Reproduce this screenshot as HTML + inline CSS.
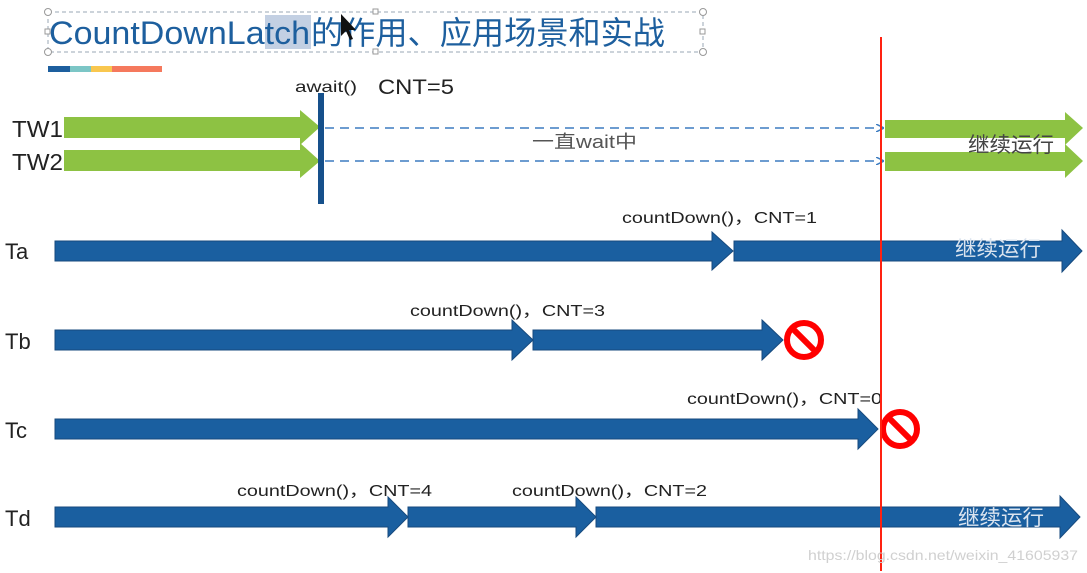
<!DOCTYPE html>
<html><head><meta charset="utf-8"><style>
html,body{margin:0;padding:0;background:#fff;}
svg{display:block;}
text{font-family:"Liberation Sans","Noto Sans CJK SC",sans-serif;}
</style></head><body>
<svg width="1087" height="573" viewBox="0 0 1087 573" xmlns="http://www.w3.org/2000/svg">
<defs>
<marker id="ah" markerWidth="8" markerHeight="8" refX="7" refY="4" orient="auto" markerUnits="userSpaceOnUse"><path d="M0,0 L8,4 L0,8" fill="none" stroke="#3d7cc0" stroke-width="1.5"/></marker>
</defs>
<rect x="48" y="12" width="655" height="40" fill="none" stroke="#9aa7b5" stroke-dasharray="4,3" stroke-width="1"/>
<circle cx="48" cy="12" r="3.5" fill="#fff" stroke="#999"/><circle cx="703" cy="12" r="3.5" fill="#fff" stroke="#999"/>
<circle cx="48" cy="52" r="3.5" fill="#fff" stroke="#999"/><circle cx="703" cy="52" r="3.5" fill="#fff" stroke="#999"/>
<rect x="373" y="9" width="5" height="5" fill="#fff" stroke="#999"/><rect x="373" y="49" width="5" height="5" fill="#fff" stroke="#999"/>
<rect x="45" y="29" width="5" height="5" fill="#fff" stroke="#999"/><rect x="700" y="29" width="5" height="5" fill="#fff" stroke="#999"/>
<rect x="265" y="15" width="46" height="34" fill="#c3d0e3"/>
<text x="49" y="44" font-size="32" fill="#1d5f9e" textLength="261" lengthAdjust="spacingAndGlyphs">CountDownLatch</text>
<text x="311" y="44" font-size="32" fill="#1d5f9e" textLength="354" lengthAdjust="spacingAndGlyphs">的作用、应用场景和实战</text>
<path d="M341,14 L341,36 L346,31 L350,40 L353,39 L349,30 L356,30 Z" fill="#111"/>
<rect x="48" y="66" width="22" height="6" fill="#1d5f9e"/><rect x="70" y="66" width="21" height="6" fill="#7cc6c6"/>
<rect x="91" y="66" width="21" height="6" fill="#f9c74f"/><rect x="112" y="66" width="50" height="6" fill="#f5795d"/>
<text x="295" y="92" font-size="16" fill="#222" textLength="62" lengthAdjust="spacingAndGlyphs">await()</text>
<text x="378" y="94" font-size="21" fill="#222" textLength="76" lengthAdjust="spacingAndGlyphs">CNT=5</text>
<text x="12" y="137" font-size="23" fill="#222" textLength="51" lengthAdjust="spacingAndGlyphs">TW1</text>
<text x="12" y="170" font-size="23" fill="#222" textLength="51" lengthAdjust="spacingAndGlyphs">TW2</text>
<polygon points="64,117 300,117 300,110 320,127 300,145 300,138 64,138" fill="#8dc243"/>
<polygon points="64,150 300,150 300,143 320,161 300,178 300,171 64,171" fill="#8dc243"/>
<rect x="318" y="93" width="6" height="111" fill="#16508b"/>
<line x1="325" y1="128" x2="883" y2="128" stroke="#3d7cc0" stroke-width="1.5" stroke-dasharray="9,6" marker-end="url(#ah)"/>
<line x1="325" y1="161" x2="883" y2="161" stroke="#3d7cc0" stroke-width="1.5" stroke-dasharray="9,6" marker-end="url(#ah)"/>
<text x="532" y="148" font-size="18" fill="#555" textLength="105" lengthAdjust="spacingAndGlyphs">一直wait中</text>
<polygon points="885,120 1065,120 1065,112 1083,128 1065,145 1065,138 885,138" fill="#8dc243"/>
<polygon points="885,152 1065,152 1065,144 1083,161 1065,178 1065,171 885,171" fill="#8dc243"/>
<text x="968" y="152" font-size="21" fill="#444" textLength="86" lengthAdjust="spacingAndGlyphs">继续运行</text>
<text x="5" y="259" font-size="22" fill="#222">Ta</text>
<text x="622" y="223" font-size="16" fill="#222" textLength="195" lengthAdjust="spacingAndGlyphs">countDown()，CNT=1</text>
<polygon points="55,241 712,241 712,232 733,251 712,270 712,261 55,261" fill="#1a5fa0" stroke="#174a7e"/>
<polygon points="734,241 1062,241 1062,230 1082,251 1062,272 1062,261 734,261" fill="#1a5fa0" stroke="#174a7e"/>
<text x="955" y="256" font-size="21" fill="#dbe4ef" textLength="86" lengthAdjust="spacingAndGlyphs">继续运行</text>
<text x="5" y="349" font-size="22" fill="#222">Tb</text>
<text x="410" y="316" font-size="16" fill="#222" textLength="195" lengthAdjust="spacingAndGlyphs">countDown()，CNT=3</text>
<polygon points="55,330 512,330 512,320 533,340 512,360 512,350 55,350" fill="#1a5fa0" stroke="#174a7e"/>
<polygon points="533,330 762,330 762,320 783,340 762,360 762,350 533,350" fill="#1a5fa0" stroke="#174a7e"/>
<g transform="translate(804,340)"><circle r="17" fill="none" stroke="#f00" stroke-width="6"/><line x1="-11" y1="-11" x2="11" y2="11" stroke="#f00" stroke-width="6"/></g>
<text x="5" y="438" font-size="22" fill="#222">Tc</text>
<text x="687" y="404" font-size="16" fill="#222" textLength="195" lengthAdjust="spacingAndGlyphs">countDown()，CNT=0</text>
<polygon points="55,419 858,419 858,409 878,429 858,449 858,439 55,439" fill="#1a5fa0" stroke="#174a7e"/>
<g transform="translate(900,429)"><circle r="17" fill="none" stroke="#f00" stroke-width="6"/><line x1="-11" y1="-11" x2="11" y2="11" stroke="#f00" stroke-width="6"/></g>
<text x="5" y="526" font-size="22" fill="#222">Td</text>
<text x="237" y="496" font-size="16" fill="#222" textLength="195" lengthAdjust="spacingAndGlyphs">countDown()，CNT=4</text>
<text x="512" y="496" font-size="16" fill="#222" textLength="195" lengthAdjust="spacingAndGlyphs">countDown()，CNT=2</text>
<polygon points="55,507 388,507 388,497 408,517 388,537 388,527 55,527" fill="#1a5fa0" stroke="#174a7e"/>
<polygon points="408,507 576,507 576,497 596,517 576,537 576,527 408,527" fill="#1a5fa0" stroke="#174a7e"/>
<polygon points="596,507 1060,507 1060,496 1080,517 1060,538 1060,527 596,527" fill="#1a5fa0" stroke="#174a7e"/>
<text x="958" y="525" font-size="21" fill="#dbe4ef" textLength="86" lengthAdjust="spacingAndGlyphs">继续运行</text>
<line x1="881" y1="37" x2="881" y2="571" stroke="#f21" stroke-width="2"/>
<text x="808" y="560" font-size="14" fill="#d0d0d0" textLength="270" lengthAdjust="spacingAndGlyphs">https://blog.csdn.net/weixin_41605937</text>
</svg>
</body></html>
